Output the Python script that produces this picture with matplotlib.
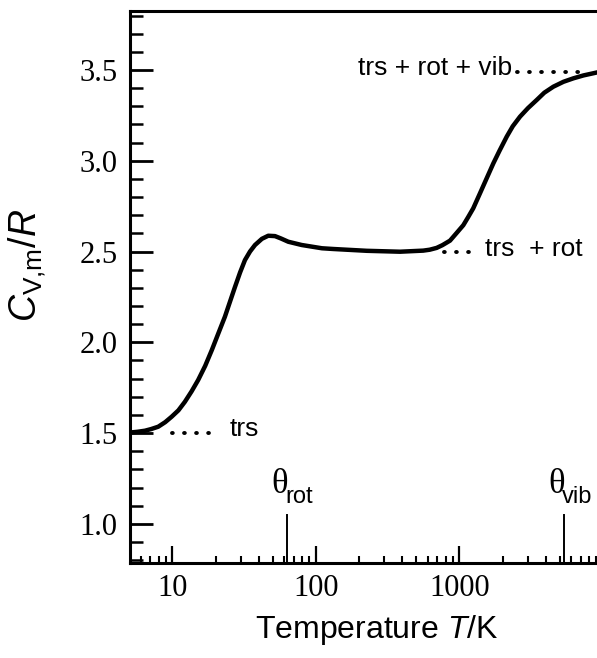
import matplotlib
matplotlib.use('Agg')
import matplotlib.pyplot as plt
from matplotlib.ticker import FixedLocator, MultipleLocator, FuncFormatter, LogLocator, NullFormatter

plt.rcParams['mathtext.fontset'] = 'custom'
plt.rcParams['mathtext.rm'] = 'Liberation Sans'
plt.rcParams['mathtext.it'] = 'Liberation Sans:italic'
plt.rcParams['mathtext.bf'] = 'Liberation Sans:bold'

# values
temps = [5.06, 5.7, 6.43, 7.1, 7.96, 8.9, 9.87, 11.0, 12.2, 13.6, 15.1, 16.9, 18.8, 20.9, 23.2,
         25.2, 27.3, 29.6, 32.0, 34.7, 37.6, 42.0, 46.5, 51.8, 57.0, 64.1, 79.5, 110, 132, 226,
         385, 559, 620, 693, 760, 859, 950, 1063, 1150, 1247, 1390, 1550, 1722, 1900, 2134,
         2350, 2641, 3000, 3454, 3900, 4508, 5300, 6211, 7300, 8555, 9500]
cv = [1.503, 1.507, 1.513, 1.522, 1.535, 1.560, 1.590, 1.625, 1.672, 1.730, 1.792, 1.870, 1.957,
      2.050, 2.141, 2.225, 2.306, 2.385, 2.453, 2.500, 2.536, 2.570, 2.587, 2.585, 2.572, 2.554,
      2.536, 2.518, 2.514, 2.504, 2.499, 2.505, 2.510, 2.520, 2.535, 2.560, 2.600, 2.645, 2.690,
      2.738, 2.821, 2.905, 2.986, 3.055, 3.133, 3.190, 3.243, 3.290, 3.335, 3.375, 3.408, 3.435,
      3.454, 3.470, 3.482, 3.490]
theta_rot = 62.5
theta_vib = 5330
y_ticks = [1.0, 1.5, 2.0, 2.5, 3.0, 3.5]
x_ticks = [10, 100, 1000]

fig = plt.figure(figsize=(5.97, 6.58), dpi=100)
ax = fig.add_axes([130 / 597, 1 - 562.5 / 658, (599.8 - 130) / 597, (562.5 - 11) / 658])

ax.plot(temps, cv, color='black', lw=3.2, solid_capstyle='round', solid_joinstyle='round', zorder=3)
ax.set_xscale('log')
ax.set_xlim(5.06, 9500)
ax.set_ylim(0.787, 3.825)

# leader dots
dot = dict(color='black', lw=2.8, linestyle=(0, (0.2, 2.9)), dash_capstyle='round')
ax.plot([9.9, 21.4], [1.5, 1.5], **dot)
ax.plot([780, 1250], [2.5, 2.5], **dot)
ax.plot([2518, 6920], [3.49, 3.49], **dot)

ann = dict(family='Liberation Sans', fontsize=19, va='baseline', ha='left')
ax.text(25.2, 1.483, 'trs', **ann)
ax.text(1507, 2.478, 'trs  + rot', **ann)
ax.text(196, 3.474, 'trs + rot + vib', **ann)

# theta markers
for th, sub in [(theta_rot, 'rot'), (theta_vib, 'vib')]:
    ax.plot([th, th], [0.787, 1.048], color='black', lw=1.4)
    ax.annotate('θ', (th, 1.214), xytext=(1, 0), textcoords='offset points',
                family='Liberation Serif', fontsize=25, ha='right', va='center')
    ax.annotate(sub, (th, 1.147), xytext=(-1, 0), textcoords='offset points',
                family='Liberation Sans', fontsize=17, ha='left', va='center')

# axes styling
for s in ['left', 'bottom', 'top']:
    ax.spines[s].set_linewidth(2.2)
ax.spines['right'].set_visible(False)

ax.yaxis.set_major_locator(FixedLocator(y_ticks))
ax.yaxis.set_minor_locator(MultipleLocator(0.1))
ax.yaxis.set_major_formatter(FuncFormatter(lambda v, p: '%.1f' % v))
ax.xaxis.set_major_locator(FixedLocator(x_ticks))
ax.xaxis.set_minor_locator(LogLocator(base=10, subs=range(2, 10)))
ax.xaxis.set_major_formatter(FuncFormatter(lambda v, p: '%d' % v))
ax.xaxis.set_minor_formatter(NullFormatter())

ax.tick_params(axis='y', which='major', direction='in', length=16.5, width=2, pad=9, labelsize=22)
ax.tick_params(axis='y', which='minor', direction='in', length=9.4, width=1.8)
ax.tick_params(axis='x', which='major', direction='in', length=12, width=1.6, pad=8, labelsize=22)
ax.tick_params(axis='x', which='minor', direction='in', length=5, width=1.5)
ax.tick_params(top=False, right=False, which='both')
for lab in ax.get_xticklabels() + ax.get_yticklabels():
    lab.set_family('Liberation Serif')

fig.text(377 / 597, 1 - 630 / 658, 'Temperature $T$/K', family='Liberation Sans',
         fontsize=23, ha='center', va='center')
fig.text(27 / 597, 1 - 265 / 658, r'$C_{\mathrm{V{,}m}}$/$R$', fontsize=27,
         family='Liberation Sans', rotation=90, ha='center', va='center')

fig.savefig('out.png', dpi=100)
